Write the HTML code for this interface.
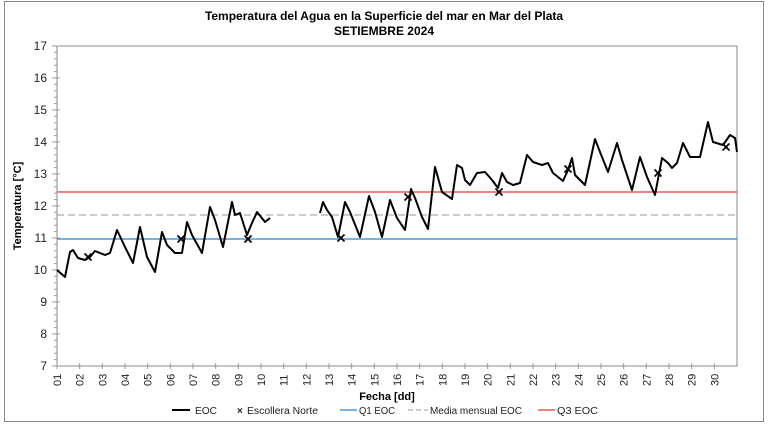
<!DOCTYPE html><html><head><style>body{margin:0;background:#fff}svg{display:block;font-family:"Liberation Sans",sans-serif}</style></head><body>
<svg width="768" height="426" viewBox="0 0 768 426">
<rect x="4.5" y="1.5" width="759" height="420" fill="#fff" stroke="#888"/>
<text x="384" y="20" font-size="12" font-weight="bold" text-anchor="middle">Temperatura del Agua en la Superficie del mar en Mar del Plata</text>
<text x="384" y="35" font-size="12" font-weight="bold" text-anchor="middle">SETIEMBRE 2024</text>
<rect x="57" y="46" width="680" height="320" fill="none" stroke="#888"/>
<g font-size="12" text-anchor="end" fill="#222">
<text x="47" y="50">17</text><text x="47" y="82">16</text><text x="47" y="114">15</text><text x="47" y="146">14</text><text x="47" y="178">13</text><text x="47" y="210">12</text><text x="47" y="242">11</text><text x="47" y="274">10</text><text x="47" y="306">9</text><text x="47" y="338">8</text><text x="47" y="370">7</text>
</g>
<g stroke="#999" id="yt"></g>
<g id="xt" font-size="11" fill="#222"></g>
<text transform="translate(21,206) rotate(-90)" font-size="11" font-weight="bold" text-anchor="middle">Temperatura [°C]</text>
<text x="387" y="400" font-size="11" font-weight="bold" text-anchor="middle">Fecha [dd]</text>
<line x1="57" x2="737" y1="192" y2="192" stroke="#e85a5a" stroke-width="1.5"/>
<line x1="57" x2="737" y1="215" y2="215" stroke="#999" stroke-dasharray="7,4"/>
<line x1="57" x2="737" y1="239" y2="239" stroke="#4a9ad6" stroke-width="1.5"/>
<polyline fill="none" stroke="#000" stroke-width="2" stroke-linejoin="round" points="57,270 65,277 70,252 73,250 78,258 85,260 90,257 95,251 105,255 110,253 117,230 125,247 133,263 140,227 147,257 155,272 162,232 167,245 175,253 182,253 187,222 192,235 202,253 210,207 215,220 223,247 232,202 235,215 240,213 247,235 252,223 257,212 265,222 270,218"/>
<polyline fill="none" stroke="#000" stroke-width="2" stroke-linejoin="round" points="320,213 323,202 327,210 332,217 338,237 345,202 350,212 360,237 369,196 375,212 382,237 390,200 397,218 405,230 411,189 415,198 422,217 428,229 435,167 442,192 452,199 457,165 462,168 465,180 470,185 477,173 485,172 492,180 498,188 502,173 507,182 513,185 520,183 527,155 533,162 542,165 548,163 553,173 563,181 568,170 572,158 575,175 585,185 595,139 600,152 608,172 617,143 622,160 632,190 640,157 647,177 655,195 662,158 668,163 672,168 677,163 683,143 690,157 700,157 708,122 713,142 723,145 730,135 735,138 737,152"/>
<g stroke="#000" stroke-width="1.8" id="mk"></g>
<g font-size="10" fill="#222">
<line x1="172" x2="190" y1="410" y2="410" stroke="#000" stroke-width="2"/><text x="195" y="414" textLength="22" lengthAdjust="spacingAndGlyphs">EOC</text>
<text x="237" y="414" font-weight="bold">×</text><text x="247" y="414" textLength="71" lengthAdjust="spacingAndGlyphs">Escollera Norte</text>
<line x1="340" x2="357" y1="410" y2="410" stroke="#4a9ad6" stroke-width="1.5"/><text x="359" y="414" textLength="36" lengthAdjust="spacingAndGlyphs">Q1 EOC</text>
<line x1="408" x2="428" y1="410" y2="410" stroke="#999" stroke-dasharray="5,3"/><text x="430" y="414" textLength="92" lengthAdjust="spacingAndGlyphs">Media mensual EOC</text>
<line x1="538" x2="555" y1="410" y2="410" stroke="#e85a5a" stroke-width="1.5"/><text x="557" y="414" textLength="41" lengthAdjust="spacingAndGlyphs">Q3  EOC</text>
</g>
<script>
var ns="http://www.w3.org/2000/svg",yt=document.getElementById('yt'),xt=document.getElementById('xt'),mk=document.getElementById('mk');
function L(g,a,b,c,d){var l=document.createElementNS(ns,'line');l.setAttribute('x1',a);l.setAttribute('y1',b);l.setAttribute('x2',c);l.setAttribute('y2',d);g.appendChild(l);}
for(var i=0;i<=50;i++){var y=46+i*6.4;L(yt,i%5?54:52,y,i%5?57:60,y);}
for(var d=0;d<30;d++){var x=57+d*22.667;L(yt,x,363,x,369);var t=document.createElementNS(ns,'text');t.setAttribute('transform','translate('+(x+4)+',386) rotate(-90)');t.textContent=(d<9?'0':'')+(d+1);xt.appendChild(t);}
[[88,257],[181,239],[248,239],[341,238],[408,197],[499,192],[568,169],[658,173],[726,147]].forEach(function(p){L(mk,p[0]-3.5,p[1]-3.5,p[0]+3.5,p[1]+3.5);L(mk,p[0]-3.5,p[1]+3.5,p[0]+3.5,p[1]-3.5);});
</script>
</svg></body></html>
